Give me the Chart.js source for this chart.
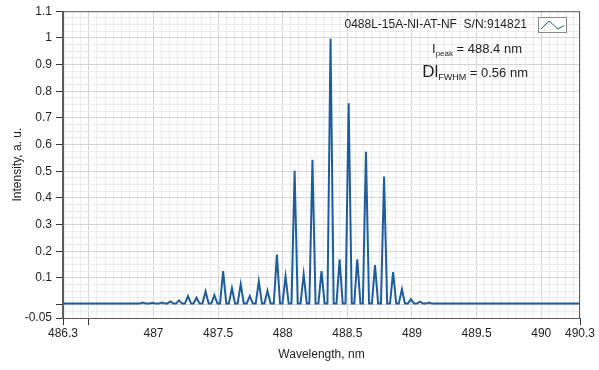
<!DOCTYPE html>
<html>
<head>
<meta charset="utf-8">
<title>0488L-15A-NI-AT-NF spectrum</title>
<script src="https://cdn.jsdelivr.net/npm/chart.js@4.4.1/dist/chart.umd.min.js"></script>
<style>
  html, body { margin: 0; padding: 0; background: #fff; }
  #wrap { width: 599px; height: 370px; position: relative; }
</style>
</head>
<body>
<div id="wrap"><canvas id="spectrum"></canvas></div>
<script>
// Spectrum trace: wavelength (nm) and intensity (a.u.)
const wavelengths = [
  486.3,
  486.893, 486.917, 486.941,
  486.967, 486.991, 487.015,
  487.041, 487.065, 487.089,
  487.107, 487.131, 487.155,
  487.174, 487.198, 487.222,
  487.243, 487.267, 487.291,
  487.309, 487.333, 487.357,
  487.379, 487.403, 487.427,
  487.447, 487.471, 487.495,
  487.515, 487.539, 487.563,
  487.583, 487.607, 487.631,
  487.651, 487.675, 487.699,
  487.721, 487.745, 487.769,
  487.791, 487.815, 487.839,
  487.858, 487.882, 487.906,
  487.931, 487.955, 487.979,
  487.998, 488.022, 488.046,
  488.068, 488.092, 488.116,
  488.138, 488.162, 488.186,
  488.206, 488.230, 488.254,
  488.276, 488.300, 488.324,
  488.346, 488.370, 488.394,
  488.416, 488.440, 488.464,
  488.486, 488.510, 488.534,
  488.553, 488.577, 488.601,
  488.620, 488.644, 488.668,
  488.690, 488.714, 488.738,
  488.760, 488.784, 488.808,
  488.830, 488.854, 488.878,
  488.898, 488.922, 488.946,
  488.968, 488.992, 489.016,
  489.038, 489.062, 489.086,
  489.108, 489.132, 489.156,
  490.3
];
const intensities = [
  0.004,
  0.004, 0.008, 0.004,
  0.004, 0.007, 0.004,
  0.004, 0.008, 0.004,
  0.004, 0.012, 0.004,
  0.004, 0.016, 0.004,
  0.004, 0.032, 0.004,
  0.004, 0.026, 0.004,
  0.004, 0.050, 0.004,
  0.004, 0.036, 0.004,
  0.004, 0.126, 0.004,
  0.004, 0.062, 0.004,
  0.004, 0.077, 0.004,
  0.004, 0.032, 0.004,
  0.004, 0.088, 0.004,
  0.004, 0.052, 0.004,
  0.004, 0.188, 0.004,
  0.004, 0.106, 0.004,
  0.004, 0.502, 0.004,
  0.004, 0.114, 0.004,
  0.004, 0.543, 0.004,
  0.004, 0.126, 0.004,
  0.004, 0.997, 0.004,
  0.004, 0.170, 0.004,
  0.004, 0.755, 0.004,
  0.004, 0.170, 0.004,
  0.004, 0.573, 0.004,
  0.004, 0.148, 0.004,
  0.004, 0.480, 0.004,
  0.004, 0.122, 0.004,
  0.004, 0.058, 0.004,
  0.004, 0.020, 0.004,
  0.004, 0.011, 0.004,
  0.004, 0.008, 0.004,
  0.004
];

const seriesLabel = '0488L-15A-NI-AT-NF  S/N:914821';
const peakNote = ['I', 'peak', ' = 488.4 nm'];
const fwhmNote = ['Dl', 'FWHM', ' = 0.56 nm'];

// axis ticks
const xLabelTicks = [486.3, 487, 487.5, 488, 488.5, 489, 489.5, 490, 490.3];
const xMarkTicks = [486.3, 486.5, 490.3];
const yLabelTicks = [-0.05, 0.1, 0.2, 0.3, 0.4, 0.5, 0.6, 0.7, 0.8, 0.9, 1, 1.1];
const yMarkTicks = [-0.05, 0, 0.1, 0.2, 0.3, 0.4, 0.5, 0.6, 0.7, 0.8, 0.9, 1, 1.1];

const X_MIN = 486.3, X_MAX = 490.3, X_MAJOR = 0.5, X_MINOR = 0.0625;
const Y_MIN = -0.05, Y_MAX = 1.1, Y_MAJOR = 0.1, Y_MINOR = 0.025;

const lineColor = '#1d5d9d';
const fontFamily = '"Liberation Sans", Arial, sans-serif';

Chart.defaults.font.family = fontFamily;
Chart.defaults.font.size = 12;
Chart.defaults.color = '#1e1e1e';

function near(a, b) {
  return Math.abs(a - b) < 1e-6;
}

function inList(list, v) {
  return list.some(t => near(t, v));
}

function isMultiple(v, step) {
  const r = v / step;
  return Math.abs(r - Math.round(r)) < 1e-6;
}

// grid ticks: the bounds, plus every minor step lined up on the majors
function gridTicks(min, max, minor) {
  const values = [min];
  let v = Math.ceil((min + 1e-9) / minor) * minor;
  while (v < max - 1e-9) {
    values.push(Math.round(v * 1e6) / 1e6);
    v += minor;
  }
  values.push(max);
  return values.map(value => ({ value }));
}

// draws text made of a main part, a subscript and a tail, right aligned
function drawSubscripted(ctx, parts, fonts, rightX, y) {
  const widths = parts.map((p, i) => {
    ctx.font = fonts[i];
    return ctx.measureText(p).width;
  });
  let x = rightX - widths.reduce((a, b) => a + b, 0);
  parts.forEach((p, i) => {
    ctx.font = fonts[i];
    ctx.fillText(p, x, i === 1 ? y + 3 : y);
    x += widths[i];
  });
}

const framePlugin = {
  id: 'frame',
  afterDatasetsDraw(chart) {
    const { ctx, chartArea: a } = chart;
    ctx.save();
    ctx.strokeStyle = '#5c5c5c';
    ctx.lineWidth = 1;
    ctx.strokeRect(a.left + 0.5, a.top + 0.5, a.right - a.left - 1, a.bottom - a.top);
    ctx.lineWidth = 2;
    ctx.beginPath();
    ctx.moveTo(a.left, a.top);
    ctx.lineTo(a.left, a.bottom + 1);
    ctx.stroke();
    ctx.restore();
  }
};

const notesPlugin = {
  id: 'notes',
  afterDraw(chart) {
    const ctx = chart.ctx;
    ctx.save();
    ctx.fillStyle = '#1e1e1e';
    ctx.textAlign = 'left';
    ctx.textBaseline = 'alphabetic';

    // series legend with its small line sample
    ctx.font = '12px ' + fontFamily;
    const w = ctx.measureText(seriesLabel).width;
    ctx.fillText(seriesLabel, 527 - w, 28);

    ctx.fillStyle = '#ffffff';
    ctx.fillRect(538.5, 17.5, 28, 15);
    ctx.strokeStyle = '#8a8a8a';
    ctx.lineWidth = 1;
    ctx.strokeRect(538.5, 17.5, 28, 15);
    ctx.strokeStyle = lineColor;
    ctx.beginPath();
    ctx.moveTo(541, 29);
    ctx.lineTo(549, 21);
    ctx.lineTo(558, 29);
    ctx.lineTo(564, 25.5);
    ctx.stroke();

    ctx.fillStyle = '#1e1e1e';
    drawSubscripted(ctx, peakNote,
      ['13px ' + fontFamily, '8px ' + fontFamily, '13px ' + fontFamily], 522, 53);
    drawSubscripted(ctx, fwhmNote,
      ['17px ' + fontFamily, '9px ' + fontFamily, '13px ' + fontFamily], 528, 77);
    ctx.restore();
  }
};

const points = wavelengths.map((w, i) => ({ x: w, y: intensities[i] }));

new Chart(document.getElementById('spectrum'), {
  type: 'line',
  data: {
    datasets: [{
      label: seriesLabel,
      data: points,
      borderColor: lineColor,
      borderWidth: 2,
      pointRadius: 0,
      tension: 0,
      fill: false
    }]
  },
  options: {
    responsive: true,
    maintainAspectRatio: false,
    animation: false,
    events: [],
    layout: { padding: { top: 11, right: 19, left: 0, bottom: 0 } },
    plugins: {
      legend: { display: false },
      tooltip: { enabled: false }
    },
    scales: {
      x: {
        type: 'linear',
        min: X_MIN,
        max: X_MAX,
        afterBuildTicks(scale) {
          scale.ticks = gridTicks(X_MIN, X_MAX, X_MINOR);
        },
        afterFit(scale) {
          scale.height = 52;
        },
        ticks: {
          autoSkip: false,
          maxRotation: 0,
          padding: 1,
          color: '#1e1e1e',
          callback(value) {
            const hit = xLabelTicks.find(t => near(t, value));
            return hit === undefined ? '' : String(hit);
          }
        },
        grid: {
          color(c) {
            return isMultiple(c.tick.value, X_MAJOR) ? '#d4d4d4' : '#ececec';
          },
          tickColor(c) {
            return inList(xMarkTicks, c.tick.value) ? '#333333' : 'rgba(0,0,0,0)';
          },
          tickLength: 7
        },
        border: { display: true, color: '#5c5c5c', width: 1 },
        title: {
          display: true,
          text: 'Wavelength, nm',
          color: '#1e1e1e',
          font: { size: 12 },
          padding: { top: 0, bottom: 8 }
        }
      },
      y: {
        min: Y_MIN,
        max: Y_MAX,
        afterBuildTicks(scale) {
          scale.ticks = gridTicks(Y_MIN, Y_MAX, Y_MINOR);
        },
        afterFit(scale) {
          scale.width = 63;
        },
        ticks: {
          autoSkip: false,
          padding: 4,
          color: '#1e1e1e',
          callback(value) {
            const hit = yLabelTicks.find(t => near(t, value));
            return hit === undefined ? '' : String(hit);
          }
        },
        grid: {
          color(c) {
            return isMultiple(c.tick.value, Y_MAJOR) ? '#d4d4d4' : '#ececec';
          },
          tickColor(c) {
            return inList(yMarkTicks, c.tick.value) ? '#333333' : 'rgba(0,0,0,0)';
          },
          tickLength: 7
        },
        border: { display: true, color: '#5c5c5c', width: 1 },
        title: {
          display: true,
          text: 'Intensity, a. u.',
          color: '#1e1e1e',
          font: { size: 12 },
          padding: { top: 10, bottom: 0 }
        }
      }
    }
  },
  plugins: [framePlugin, notesPlugin]
});
</script>
</body>
</html>
